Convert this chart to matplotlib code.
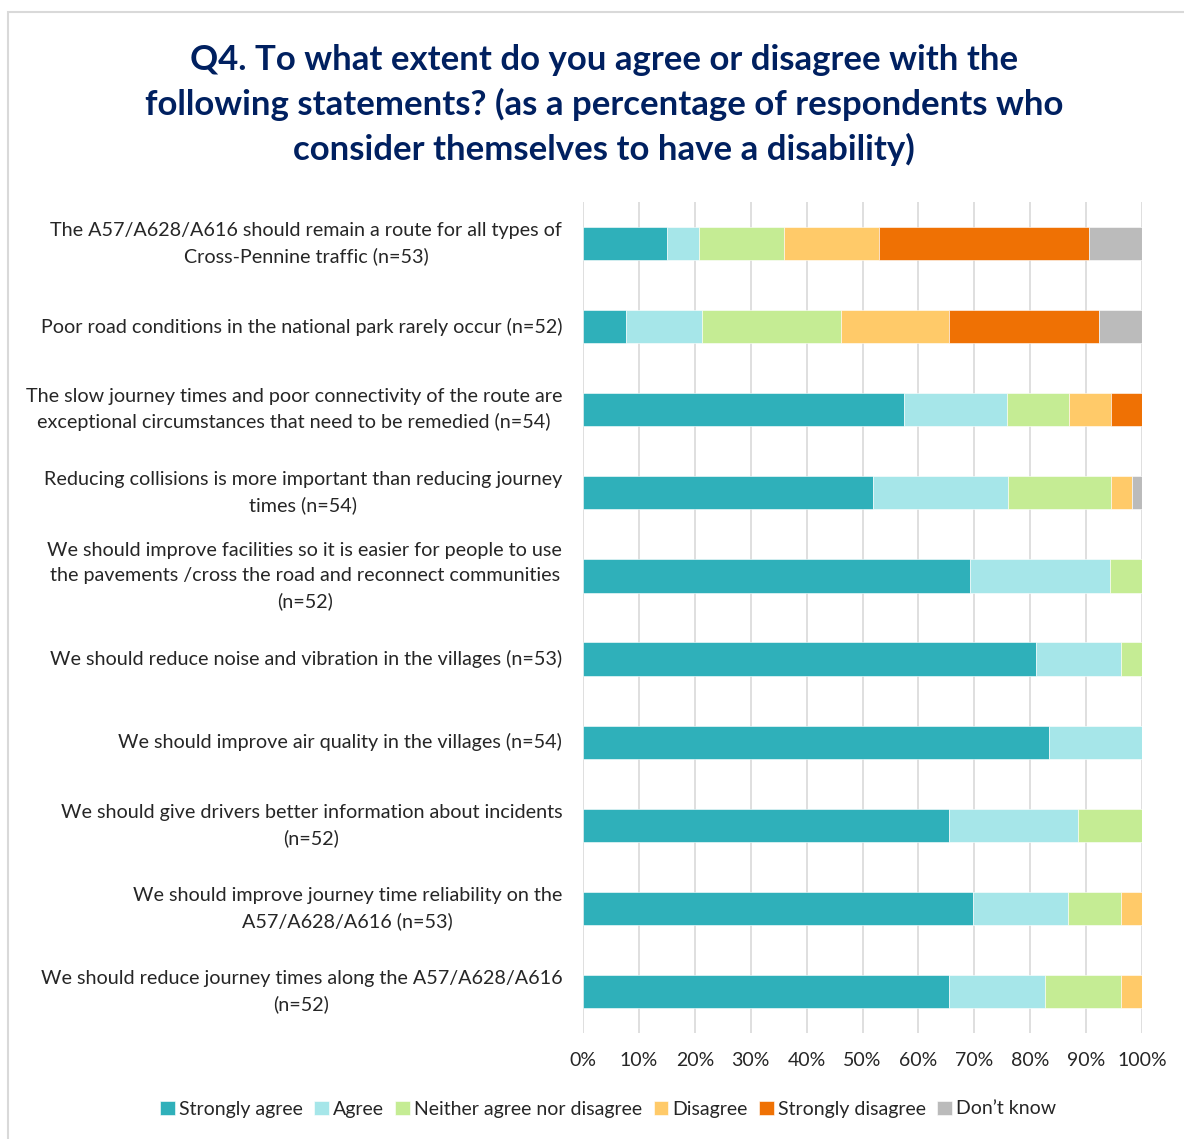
import matplotlib.pyplot as plt
from matplotlib.patches import Rectangle
import matplotlib.ticker as ticker

plt.rcParams['font.family'] = ['Lato', 'DejaVu Sans']

statements = [
    "The A57/A628/A616 should remain a route for all types of\nCross-Pennine traffic (n=53)",
    "Poor road conditions in the national park rarely occur (n=52)",
    "The slow journey times and poor connectivity of the route are\nexceptional circumstances that need to be remedied (n=54)",
    "Reducing collisions is more important than reducing journey\ntimes (n=54)",
    "We should improve facilities so it is easier for people to use\nthe pavements /cross the road and reconnect communities\n(n=52)",
    "We should reduce noise and vibration in the villages (n=53)",
    "We should improve air quality in the villages (n=54)",
    "We should give drivers better information about incidents\n(n=52)",
    "We should improve journey time reliability on the\nA57/A628/A616 (n=53)",
    "We should reduce journey times along the A57/A628/A616\n(n=52)",
]

responses = ["Strongly agree", "Agree", "Neither agree nor disagree",
             "Disagree", "Strongly disagree", "Don\u2019t know"]

# percentages per statement (top to bottom)
strongly_agree = [15.1, 7.7, 57.4, 51.9, 69.2, 81.1, 83.3, 65.4, 69.8, 65.4]
agree = [5.7, 13.5, 18.5, 24.1, 25.0, 15.1, 16.7, 23.1, 17.0, 17.3]
neither = [15.1, 25.0, 11.1, 18.5, 5.8, 3.8, 0, 11.5, 9.4, 13.5]
disagree = [17.0, 19.2, 7.4, 3.7, 0, 0, 0, 0, 3.8, 3.8]
strongly_disagree = [37.7, 26.9, 5.6, 0, 0, 0, 0, 0, 0, 0]
dont_know = [9.4, 7.7, 0, 1.9, 0, 0, 0, 0, 0, 0]

colors = ['#2FB0BA', '#A6E6E9', '#C5EC94', '#FFCA69', '#EF7104', '#BBBBBB']

fig = plt.figure(figsize=(11.84, 11.39), dpi=100)

# light frame around the chart
fig.patches.append(Rectangle((8 / 1184, -0.1), 1.2, 1 - 12 / 1139 + 0.1,
                             transform=fig.transFigure, fill=False,
                             edgecolor='#D9D9D9', lw=1.5))

ax = fig.add_axes([583 / 1184, 1 - 1033 / 1139, 559 / 1184, 831 / 1139])

series = [strongly_agree, agree, neither, disagree, strongly_disagree, dont_know]
ypos = list(range(len(statements)))
left = [0] * len(statements)
for name, vals, col in zip(responses, series, colors):
    ax.barh(ypos, vals, left=left, height=0.4, color=col, label=name,
            edgecolor='white', linewidth=0.4, zorder=3)
    left = [a + b for a, b in zip(left, vals)]

ax.set_xlim(0, 100)
ax.set_ylim(9.5, -0.5)
ax.xaxis.set_major_locator(ticker.MultipleLocator(10))
ax.xaxis.set_major_formatter(ticker.FuncFormatter(lambda v, p: f"{v:.0f}%"))
ax.grid(axis='x', color='#D9D9D9', lw=1.2, zorder=0)
for s in ax.spines.values():
    s.set_visible(False)
ax.tick_params(axis='x', length=0, pad=14, labelsize=14, labelcolor='#262626')
ax.set_yticks(ypos)
ax.set_yticklabels([])
ax.tick_params(axis='y', length=0)

# category labels, right aligned against the plot, lines centred
for y, txt in zip(ypos, statements):
    ax.text(-0.037, y, txt, ha='right', va='center', multialignment='center',
            fontsize=14.2, color='#262626', linespacing=1.55,
            transform=ax.get_yaxis_transform())

fig.text(0.51, 1 - 105 / 1139,
         "Q4. To what extent do you agree or disagree with the\n"
         "following statements? (as a percentage of respondents who\n"
         "consider themselves to have a disability)",
         ha='center', va='center', fontsize=25, fontweight='bold',
         color='#002060', linespacing=1.45)

fig.legend(loc='center', bbox_to_anchor=(608 / 1184, 1 - 1109 / 1139), ncol=6,
           frameon=False, fontsize=14, handlelength=0.75, handleheight=0.75,
           handletextpad=0.2, columnspacing=0.6, labelcolor='#262626')

fig.savefig('out.png', dpi=100)
